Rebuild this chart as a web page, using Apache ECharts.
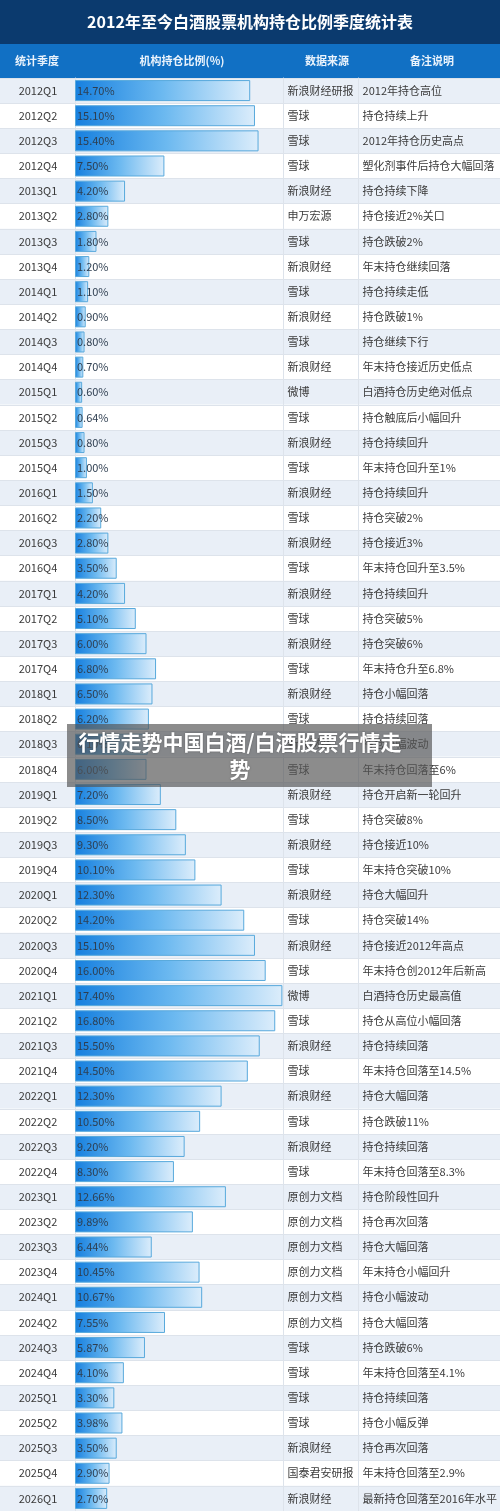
<!DOCTYPE html>
<html>
<head>
<meta charset="utf-8">
<script src="https://cdn.jsdelivr.net/npm/echarts@6/dist/echarts.min.js"></script>
<style>
html,body{margin:0;padding:0;background:#fff;}
#chart{width:500px;height:1511px;}
</style>
</head>
<body>
<div id="chart"></div>
<script>
const titleText = '2012年至今白酒股票机构持仓比例季度统计表';
const headers = ['统计季度', '机构持仓比例(%)', '数据来源', '备注说明'];
const overlayText = '行情走势中国白酒/白酒股票行情走\n势';

const quarters = [
  '2012Q1','2012Q2','2012Q3','2012Q4',
  '2013Q1','2013Q2','2013Q3','2013Q4',
  '2014Q1','2014Q2','2014Q3','2014Q4',
  '2015Q1','2015Q2','2015Q3','2015Q4',
  '2016Q1','2016Q2','2016Q3','2016Q4',
  '2017Q1','2017Q2','2017Q3','2017Q4',
  '2018Q1','2018Q2','2018Q3','2018Q4',
  '2019Q1','2019Q2','2019Q3','2019Q4',
  '2020Q1','2020Q2','2020Q3','2020Q4',
  '2021Q1','2021Q2','2021Q3','2021Q4',
  '2022Q1','2022Q2','2022Q3','2022Q4',
  '2023Q1','2023Q2','2023Q3','2023Q4',
  '2024Q1','2024Q2','2024Q3','2024Q4',
  '2025Q1','2025Q2','2025Q3','2025Q4',
  '2026Q1'
];

const ratios = [
  14.70, 15.10, 15.40, 7.50,
  4.20, 2.80, 1.80, 1.20,
  1.10, 0.90, 0.80, 0.70,
  0.60, 0.64, 0.80, 1.00,
  1.50, 2.20, 2.80, 3.50,
  4.20, 5.10, 6.00, 6.80,
  6.50, 6.20, 6.10, 6.00,
  7.20, 8.50, 9.30, 10.10,
  12.30, 14.20, 15.10, 16.00,
  17.40, 16.80, 15.50, 14.50,
  12.30, 10.50, 9.20, 8.30,
  12.66, 9.89, 6.44, 10.45,
  10.67, 7.55, 5.87, 4.10,
  3.30, 3.98, 3.50, 2.90,
  2.70
];

const sources = [
  '新浪财经研报','雪球','雪球','雪球',
  '新浪财经','申万宏源','雪球','新浪财经',
  '雪球','新浪财经','雪球','新浪财经',
  '微博','雪球','新浪财经','雪球',
  '新浪财经','雪球','新浪财经','雪球',
  '新浪财经','雪球','新浪财经','雪球',
  '新浪财经','雪球','新浪财经','雪球',
  '新浪财经','雪球','新浪财经','雪球',
  '新浪财经','雪球','新浪财经','雪球',
  '微博','雪球','新浪财经','雪球',
  '新浪财经','雪球','新浪财经','雪球',
  '原创力文档','原创力文档','原创力文档','原创力文档',
  '原创力文档','原创力文档','雪球','雪球',
  '雪球','雪球','新浪财经','国泰君安研报',
  '新浪财经'
];

const notes = [
  '2012年持仓高位','持仓持续上升','2012年持仓历史高点','塑化剂事件后持仓大幅回落',
  '持仓持续下降','持仓接近2%关口','持仓跌破2%','年末持仓继续回落',
  '持仓持续走低','持仓跌破1%','持仓继续下行','年末持仓接近历史低点',
  '白酒持仓历史绝对低点','持仓触底后小幅回升','持仓持续回升','年末持仓回升至1%',
  '持仓持续回升','持仓突破2%','持仓接近3%','年末持仓回升至3.5%',
  '持仓持续回升','持仓突破5%','持仓突破6%','年末持仓升至6.8%',
  '持仓小幅回落','持仓持续回落','持仓小幅波动','年末持仓回落至6%',
  '持仓开启新一轮回升','持仓突破8%','持仓接近10%','年末持仓突破10%',
  '持仓大幅回升','持仓突破14%','持仓接近2012年高点','年末持仓创2012年后新高',
  '白酒持仓历史最高值','持仓从高位小幅回落','持仓持续回落','年末持仓回落至14.5%',
  '持仓大幅回落','持仓跌破11%','持仓持续回落','年末持仓回落至8.3%',
  '持仓阶段性回升','持仓再次回落','持仓大幅回落','年末持仓小幅回升',
  '持仓小幅波动','持仓大幅回落','持仓跌破6%','年末持仓回落至4.1%',
  '持仓持续回落','持仓小幅反弹','持仓再次回落','年末持仓回落至2.9%',
  '最新持仓回落至2016年水平'
];

const FONT = '"Noto Sans CJK SC", "Noto Sans", sans-serif';
const TEXT_COLOR = '#3a3a3a';
const LINE_COLOR = '#dde3eb';

const chart = echarts.init(document.getElementById('chart'), null, {renderer: 'canvas'});

const headerCenters = [37, 182, 327, 432];

const option = {
  animation: false,
  backgroundColor: '#ffffff',
  textStyle: {fontFamily: FONT},
  graphic: [
    {type: 'rect', z: 0, shape: {x: 0, y: 0, width: 500, height: 44}, style: {fill: '#0b3a6e'}},
    {type: 'rect', z: 0, shape: {x: 0, y: 44, width: 500, height: 34}, style: {fill: '#1170c4'}},
    {type: 'text', z: 5, x: 250, y: 22, style: {
      text: titleText, fill: '#ffffff', font: 'bold 16px ' + FONT,
      align: 'center', verticalAlign: 'middle'
    }},
    ...headers.map((h, i) => ({
      type: 'text', z: 5, x: headerCenters[i], y: 61, style: {
        text: h, fill: '#eaf3fc', font: 'bold 11px ' + FONT,
        align: 'center', verticalAlign: 'middle'
      }
    })),
    {type: 'group', z: 100, children: [
      {type: 'rect', z: 100, shape: {x: 67, y: 724, width: 365, height: 63},
        style: {fill: 'rgba(85,85,85,0.68)'}},
      {type: 'text', z: 101, x: 240, y: 756, style: {
        text: overlayText, fill: '#ffffff', font: 'bold 21px ' + FONT,
        align: 'center', verticalAlign: 'middle', lineHeight: 27,
        textShadowColor: 'rgba(0,0,0,0.35)', textShadowBlur: 2
      }}
    ]}
  ],
  grid: [
    {left: 0, right: 0, top: 78, bottom: 0},
    {left: 75, right: 210, top: 78, bottom: 0}
  ],
  xAxis: [
    {gridIndex: 0, type: 'value', min: 0, max: 1, show: false},
    {gridIndex: 1, type: 'value', min: 0, max: 17.5, show: false}
  ],
  yAxis: [
    {
      gridIndex: 0, type: 'category', data: quarters, inverse: true,
      axisLine: {show: false}, axisTick: {show: false}, axisLabel: {show: false},
      splitArea: {show: true, interval: 0, areaStyle: {color: ['#e9eff7', '#ffffff']}},
      splitLine: {show: true, interval: 0, lineStyle: {color: LINE_COLOR, width: 1}}
    },
    {
      gridIndex: 1, type: 'category', data: quarters, inverse: true,
      axisLine: {show: true, lineStyle: {color: LINE_COLOR}},
      axisTick: {show: false},
      axisLabel: {interval: 0, align: 'center', margin: 37, color: TEXT_COLOR,
        fontSize: 11, fontFamily: FONT}
    },
    {
      gridIndex: 1, type: 'category', data: quarters, inverse: true,
      position: 'right', offset: 0,
      axisLine: {show: true, lineStyle: {color: LINE_COLOR}},
      axisTick: {show: false},
      axisLabel: {interval: 0, align: 'left', margin: 4, color: TEXT_COLOR,
        fontSize: 11, fontFamily: FONT,
        formatter: (v, i) => sources[i]}
    },
    {
      gridIndex: 1, type: 'category', data: quarters, inverse: true,
      position: 'right', offset: 75,
      axisLine: {show: true, lineStyle: {color: LINE_COLOR}},
      axisTick: {show: false},
      axisLabel: {interval: 0, align: 'left', margin: 4, color: TEXT_COLOR,
        fontSize: 11, fontFamily: FONT,
        formatter: (v, i) => notes[i]}
    }
  ],
  series: [
    {
      type: 'bar',
      xAxisIndex: 1, yAxisIndex: 1,
      data: ratios,
      barWidth: 21,
      itemStyle: {
        color: new echarts.graphic.LinearGradient(0, 0, 1, 0, [
          {offset: 0, color: '#1780df'},
          {offset: 0.5, color: '#6cb9f0'},
          {offset: 1, color: '#dcedfb'}
        ]),
        borderColor: '#58a9dc',
        borderWidth: 1
      },
      label: {
        show: true, position: 'insideLeft', distance: 2,
        formatter: p => p.value.toFixed(2) + '%',
        color: '#2e3e50', fontSize: 11, fontFamily: FONT
      }
    }
  ]
};

chart.setOption(option);
</script>
</body>
</html>
